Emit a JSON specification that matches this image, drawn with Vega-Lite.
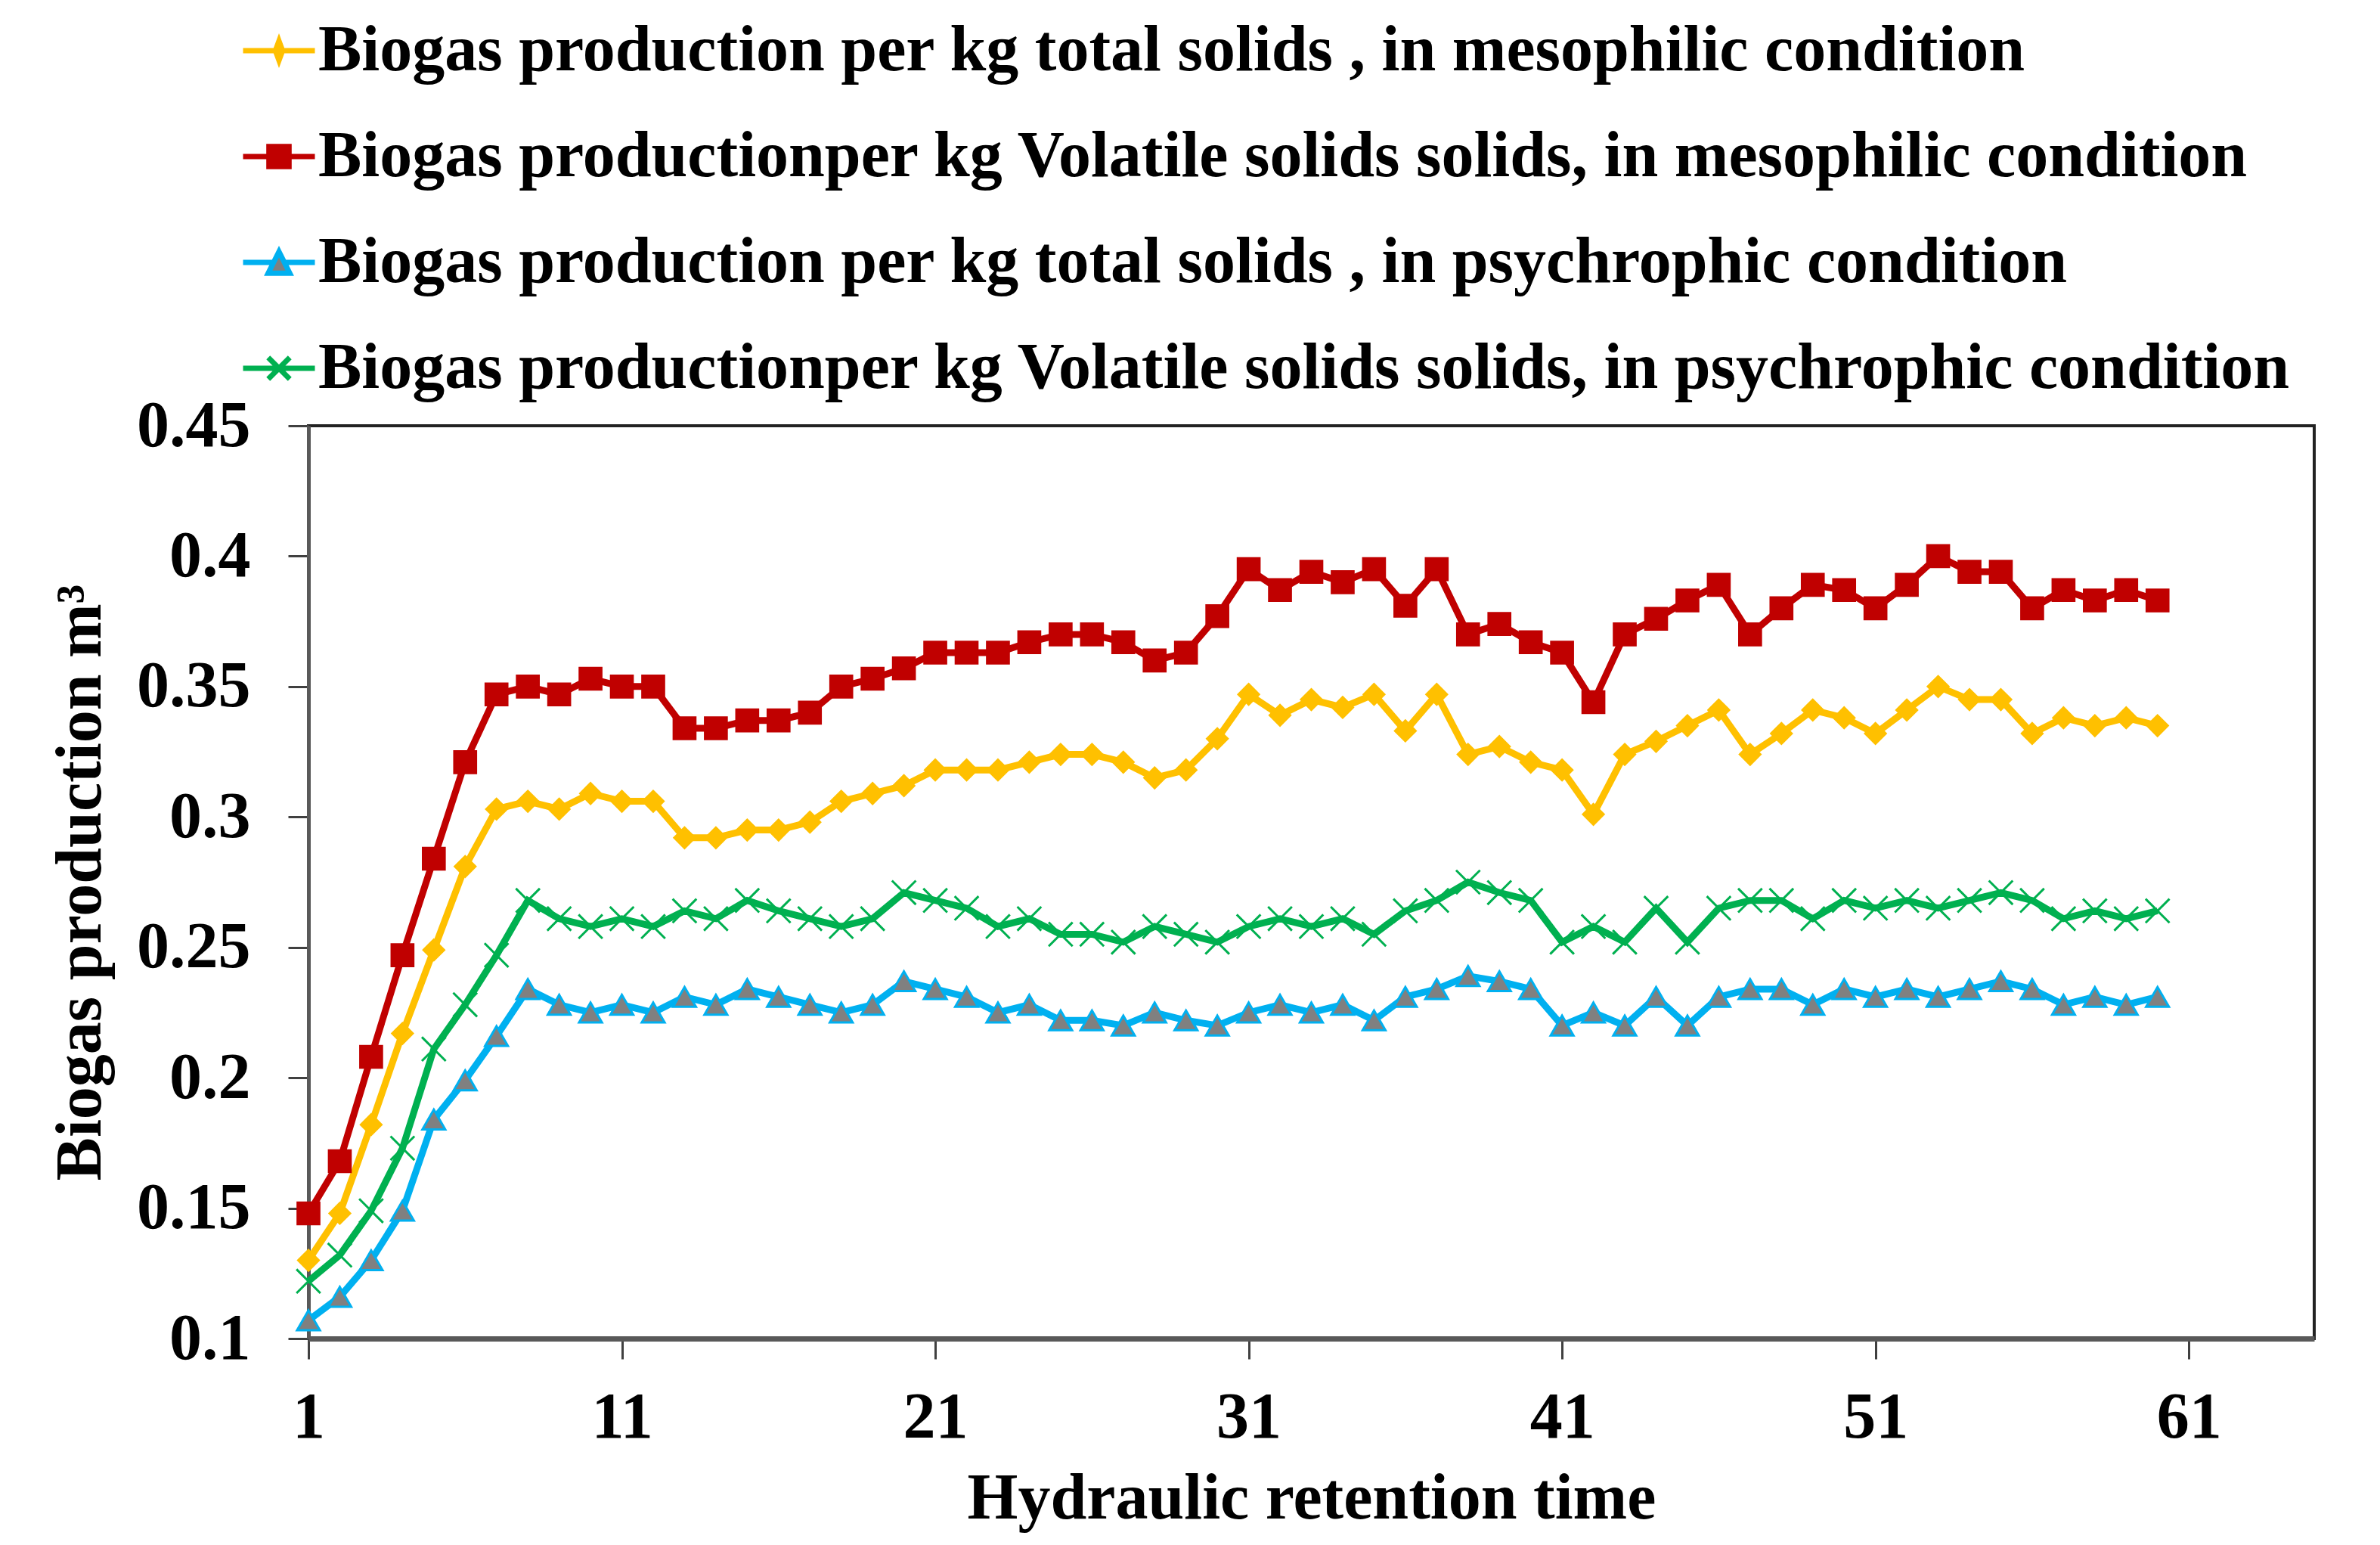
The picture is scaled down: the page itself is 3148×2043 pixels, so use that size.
{
  "$schema": "https://vega.github.io/schema/vega-lite/v6.json",
  "width": 2653,
  "height": 1207,
  "autosize": {"type": "none"},
  "padding": {"left": 408, "top": 563, "right": 87, "bottom": 273},
  "background": "white",
  "config": {"view": {"stroke": "#222222", "strokeWidth": 4}, "font": "Liberation Serif"},
  "data": {"values": [
    {"day":1,"a":0.130,"b":0.148,"c":0.107,"d":0.122},
    {"day":2,"a":0.148,"b":0.168,"c":0.116,"d":0.132},
    {"day":3,"a":0.182,"b":0.208,"c":0.130,"d":0.149},
    {"day":4,"a":0.217,"b":0.247,"c":0.149,"d":0.173},
    {"day":5,"a":0.249,"b":0.284,"c":0.184,"d":0.211},
    {"day":6,"a":0.281,"b":0.321,"c":0.199,"d":0.228},
    {"day":7,"a":0.303,"b":0.347,"c":0.216,"d":0.247},
    {"day":8,"a":0.306,"b":0.350,"c":0.234,"d":0.268},
    {"day":9,"a":0.303,"b":0.347,"c":0.228,"d":0.261},
    {"day":10,"a":0.309,"b":0.353,"c":0.225,"d":0.258},
    {"day":11,"a":0.306,"b":0.350,"c":0.228,"d":0.261},
    {"day":12,"a":0.306,"b":0.350,"c":0.225,"d":0.258},
    {"day":13,"a":0.292,"b":0.334,"c":0.231,"d":0.264},
    {"day":14,"a":0.292,"b":0.334,"c":0.228,"d":0.261},
    {"day":15,"a":0.295,"b":0.337,"c":0.234,"d":0.268},
    {"day":16,"a":0.295,"b":0.337,"c":0.231,"d":0.264},
    {"day":17,"a":0.298,"b":0.340,"c":0.228,"d":0.261},
    {"day":18,"a":0.306,"b":0.350,"c":0.225,"d":0.258},
    {"day":19,"a":0.309,"b":0.353,"c":0.228,"d":0.261},
    {"day":20,"a":0.312,"b":0.357,"c":0.237,"d":0.271},
    {"day":21,"a":0.318,"b":0.363,"c":0.234,"d":0.268},
    {"day":22,"a":0.318,"b":0.363,"c":0.231,"d":0.265},
    {"day":23,"a":0.318,"b":0.363,"c":0.225,"d":0.258},
    {"day":24,"a":0.321,"b":0.367,"c":0.228,"d":0.261},
    {"day":25,"a":0.324,"b":0.370,"c":0.222,"d":0.255},
    {"day":26,"a":0.324,"b":0.370,"c":0.222,"d":0.255},
    {"day":27,"a":0.321,"b":0.367,"c":0.220,"d":0.252},
    {"day":28,"a":0.315,"b":0.360,"c":0.225,"d":0.258},
    {"day":29,"a":0.318,"b":0.363,"c":0.222,"d":0.255},
    {"day":30,"a":0.330,"b":0.377,"c":0.220,"d":0.252},
    {"day":31,"a":0.347,"b":0.395,"c":0.225,"d":0.258},
    {"day":32,"a":0.339,"b":0.387,"c":0.228,"d":0.261},
    {"day":33,"a":0.345,"b":0.394,"c":0.225,"d":0.258},
    {"day":34,"a":0.342,"b":0.390,"c":0.228,"d":0.261},
    {"day":35,"a":0.347,"b":0.395,"c":0.222,"d":0.255},
    {"day":36,"a":0.333,"b":0.381,"c":0.231,"d":0.264},
    {"day":37,"a":0.347,"b":0.395,"c":0.234,"d":0.268},
    {"day":38,"a":0.324,"b":0.370,"c":0.239,"d":0.275},
    {"day":39,"a":0.327,"b":0.374,"c":0.237,"d":0.271},
    {"day":40,"a":0.321,"b":0.367,"c":0.234,"d":0.268},
    {"day":41,"a":0.318,"b":0.363,"c":0.220,"d":0.252},
    {"day":42,"a":0.301,"b":0.344,"c":0.225,"d":0.258},
    {"day":43,"a":0.324,"b":0.370,"c":0.220,"d":0.252},
    {"day":44,"a":0.329,"b":0.376,"c":0.231,"d":0.265},
    {"day":45,"a":0.335,"b":0.383,"c":0.220,"d":0.252},
    {"day":46,"a":0.341,"b":0.389,"c":0.231,"d":0.265},
    {"day":47,"a":0.324,"b":0.370,"c":0.234,"d":0.268},
    {"day":48,"a":0.332,"b":0.380,"c":0.234,"d":0.268},
    {"day":49,"a":0.341,"b":0.389,"c":0.228,"d":0.261},
    {"day":50,"a":0.338,"b":0.387,"c":0.234,"d":0.268},
    {"day":51,"a":0.332,"b":0.380,"c":0.231,"d":0.265},
    {"day":52,"a":0.341,"b":0.389,"c":0.234,"d":0.268},
    {"day":53,"a":0.350,"b":0.400,"c":0.231,"d":0.265},
    {"day":54,"a":0.345,"b":0.394,"c":0.234,"d":0.268},
    {"day":55,"a":0.345,"b":0.394,"c":0.237,"d":0.271},
    {"day":56,"a":0.332,"b":0.380,"c":0.234,"d":0.268},
    {"day":57,"a":0.338,"b":0.387,"c":0.228,"d":0.261},
    {"day":58,"a":0.335,"b":0.383,"c":0.231,"d":0.264},
    {"day":59,"a":0.338,"b":0.387,"c":0.228,"d":0.261},
    {"day":60,"a":0.335,"b":0.383,"c":0.231,"d":0.264}
  ]},
  "transform": [
    {"fold": ["a", "b", "c", "d"], "as": ["k", "value"]},
    {"lookup": "k", "from": {"data": {"values": [
      {"k": "a", "series": "Biogas production per kg total solids , in mesophilic condition"},
      {"k": "b", "series": "Biogas productionper kg Volatile solids solids, in mesophilic condition"},
      {"k": "c", "series": "Biogas production per kg total solids , in psychrophic condition"},
      {"k": "d", "series": "Biogas productionper kg Volatile solids solids, in psychrophic condition"}
    ]}, "key": "k", "fields": ["series"]}}
  ],
  "encoding": {
    "x": {
      "field": "day", "type": "quantitative",
      "scale": {"domain": [1, 65], "nice": false, "zero": false},
      "axis": {
        "values": [1, 11, 21, 31, 41, 51, 61],
        "title": "Hydraulic retention time",
        "grid": false,
        "domainColor": "#595959", "domainWidth": 7,
        "tickColor": "#404040", "tickWidth": 3, "tickSize": 27,
        "labelFont": "Liberation Serif", "labelFontSize": 86, "labelFontWeight": "bold", "labelColor": "black",
        "labelPadding": 35, "labelFlush": false,
        "titleFont": "Liberation Serif", "titleFontSize": 86, "titleFontWeight": "bold", "titleColor": "black",
        "titlePadding": 22
      }
    },
    "y": {
      "field": "value", "type": "quantitative",
      "scale": {"domain": [0.1, 0.45], "nice": false, "zero": false},
      "axis": {
        "values": [0.1, 0.15, 0.2, 0.25, 0.3, 0.35, 0.4, 0.45],
        "format": ".2~f",
        "title": "Biogas production m³",
        "grid": false,
        "domainColor": "#595959", "domainWidth": 5,
        "tickColor": "#404040", "tickWidth": 3, "tickSize": 27,
        "labelFont": "Liberation Serif", "labelFontSize": 86, "labelFontWeight": "bold", "labelColor": "black",
        "labelPadding": 50, "labelFlush": false,
        "titleFont": "Liberation Serif", "titleFontSize": 86, "titleFontWeight": "bold", "titleColor": "black",
        "titlePadding": 58
      }
    }
  },
  "resolve": {"scale": {"shape": "independent", "fill": "independent", "stroke": "independent"}},
  "layer": [
    {
      "mark": {"type": "line", "strokeWidth": 9},
      "encoding": {
        "color": {
          "field": "k", "type": "nominal",
          "scale": {"domain": ["a", "b", "c", "d"], "range": ["#FFC000", "#C00000", "#00B0F0", "#00B050"]},
          "legend": null
        }
      }
    },
    {
      "mark": {"type": "point", "filled": true, "opacity": 1, "strokeWidth": 3},
      "encoding": {
        "shape": {
          "field": "k", "type": "nominal",
          "scale": {"domain": ["a", "b", "c", "d"], "range": ["diamond", "square", "triangle-up", "M-1,-1L1,1M-1,1L1,-1"]},
          "legend": null
        },
        "fill": {
          "field": "k", "type": "nominal",
          "scale": {"domain": ["a", "b", "c", "d"], "range": ["#FFC000", "#C00000", "#808080", "transparent"]},
          "legend": null
        },
        "stroke": {
          "field": "k", "type": "nominal",
          "scale": {"domain": ["a", "b", "c", "d"], "range": ["#FFC000", "#C00000", "#00B0F0", "#00B050"]},
          "legend": null
        },
        "size": {
          "field": "k", "type": "nominal",
          "scale": {"domain": ["a", "b", "c", "d"], "range": [730, 1000, 900, 800]},
          "legend": null
        }
      }
    },
    {
      "transform": [{"filter": "datum.day > 1000"}],
      "mark": {"type": "point", "filled": true, "opacity": 1, "strokeWidth": 7},
      "encoding": {
        "shape": {
          "field": "series", "type": "nominal",
          "scale": {
            "domain": [
              "Biogas production per kg total solids , in mesophilic condition",
              "Biogas productionper kg Volatile solids solids, in mesophilic condition",
              "Biogas production per kg total solids , in psychrophic condition",
              "Biogas productionper kg Volatile solids solids, in psychrophic condition"
            ],
            "range": [
              "M-1,0H1M0,-0.27L0.1,0L0,0.27L-0.1,0Z",
              "M-1,0H1M-0.28,-0.28H0.28V0.28H-0.28Z",
              "M-1,0H-0.15M0.15,0H1M0,-0.3L0.3,0.3H-0.3Z",
              "M-1,0H1M-0.3,-0.3L0.3,0.3M-0.3,0.3L0.3,-0.3"
            ]
          },
          "legend": {
            "title": null,
            "orient": "none",
            "legendX": -90,
            "legendY": -547,
            "direction": "vertical",
            "columns": 1,
            "padding": 0,
            "rowPadding": 46,
            "symbolSize": 9025,
            "symbolStrokeWidth": 7,
            "symbolOpacity": 1,
            "labelFont": "Liberation Serif",
            "labelFontSize": 86,
            "labelFontWeight": "bold",
            "labelColor": "black",
            "labelLimit": 3000,
            "labelOffset": 1
          }
        },
        "fill": {
          "field": "series", "type": "nominal",
          "scale": {
            "domain": [
              "Biogas production per kg total solids , in mesophilic condition",
              "Biogas productionper kg Volatile solids solids, in mesophilic condition",
              "Biogas production per kg total solids , in psychrophic condition",
              "Biogas productionper kg Volatile solids solids, in psychrophic condition"
            ],
            "range": ["#FFC000", "#C00000", "#808080", "transparent"]
          }
        },
        "stroke": {
          "field": "series", "type": "nominal",
          "scale": {
            "domain": [
              "Biogas production per kg total solids , in mesophilic condition",
              "Biogas productionper kg Volatile solids solids, in mesophilic condition",
              "Biogas production per kg total solids , in psychrophic condition",
              "Biogas productionper kg Volatile solids solids, in psychrophic condition"
            ],
            "range": ["#FFC000", "#C00000", "#00B0F0", "#00B050"]
          }
        }
      }
    }
  ]
}
